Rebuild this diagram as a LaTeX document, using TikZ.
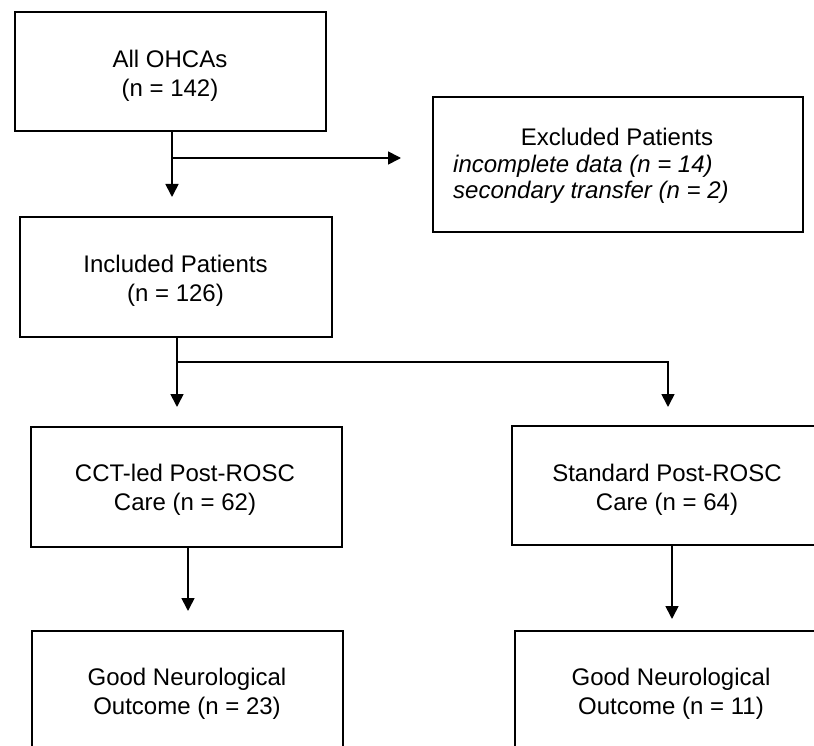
\documentclass[tikz,border=0pt]{standalone}
\usepackage{fontspec}
\setmainfont{Liberation Sans}
\usetikzlibrary{arrows.meta}
\tikzset{
  box/.style={draw=black, line width=2pt, minimum width=311pt, minimum height=120pt, inner sep=0pt, outer sep=0pt},
  txt/.style={font=\fontsize{24}{29}\selectfont, align=center, inner sep=0pt, anchor=north, text=black},
  ln/.style={line width=1.7pt, draw=black},
  arr/.style={ln, -{Triangle[width=13pt,length=13pt]}},
}
\begin{document}
\begin{tikzpicture}[x=1pt,y=-1pt]
\useasboundingbox (0,0) rectangle (814,746);
\fill[white] (0,0) rectangle (814,746);
\clip (0,0) rectangle (814,746);

% boxes
\node[box, minimum height=119pt] (b1) at (170.5,71.5) {};
\node[box, minimum width=312pt] (b2) at (176,277) {};
\node[box, minimum width=370pt, minimum height=135pt] (ex) at (618,164.5) {};
\node[box] (c1) at (186.5,487) {};
\node[box, minimum height=119pt] (c2) at (667.5,485.5) {};
\node[box] (g1) at (187.5,691) {};
\node[box] (g2) at (670.5,691) {};

% texts (north = first baseline - 17.3)
\node[txt] (b1t) at (170,49.7) {All OHCAs\\(n = 142)};
\node[txt] (b2t) at (175.5,254.7) {Included Patients\\(n = 126)};
\node[txt] (ext) at (617,127.7) {Excluded Patients};
\node[txt, anchor=north west, align=left, font=\fontsize{24}{26.5}\selectfont\itshape] (exl) at (453,154.7) {incomplete data (n = 14)\\secondary transfer (n = 2)};
\node[txt] (c1t) at (185,463.7) {CCT-led Post-ROSC\\Care (n = 62)};
\node[txt] (c2t) at (667,463.7) {Standard Post-ROSC\\Care (n = 64)};
\node[txt] (g1t) at (187,667.7) {Good Neurological\\Outcome (n = 23)};
\node[txt] (g2t) at (671,667.7) {Good Neurological\\Outcome (n = 11)};

% connector points
\coordinate (j1) at (172,158);
\coordinate (t1) at (172,197);
\coordinate (t2) at (401,158);
\coordinate (j2) at (177,362);
\coordinate (j3) at (668,362);
\coordinate (t3) at (177,407);
\coordinate (t4) at (668,407);
\coordinate (t5) at (188,611);
\coordinate (t6) at (672,619);

% connectors
\draw[arr] (b1.south -| j1) -- (t1);
\draw[arr] (j1) -- (t2);
\draw[arr] (b2.south -| j2) -- (j2) -- (j3) -- (t4);
\draw[arr] (j2) -- (t3);
\draw[arr] (c1.south -| t5) -- (t5);
\draw[arr] (c2.south -| t6) -- (t6);
\end{tikzpicture}
\end{document}
